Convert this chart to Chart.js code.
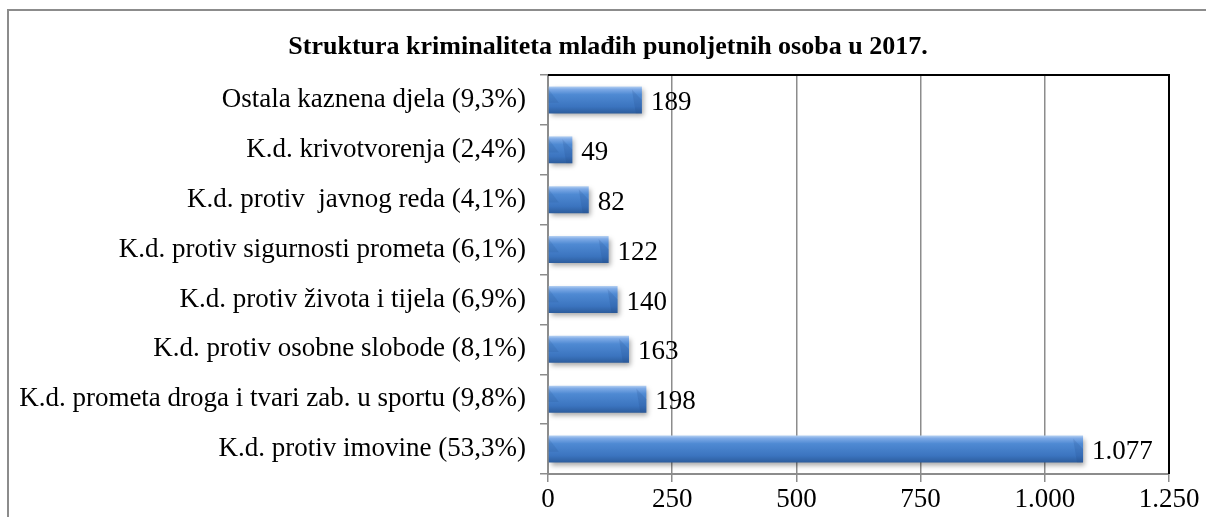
<!DOCTYPE html>
<html>
<head>
<meta charset="utf-8">
<script src="https://cdn.jsdelivr.net/npm/chart.js@4/dist/chart.umd.min.js"></script>
<style>
  body { margin: 0; background: #fff; }
  #wrap { position: relative; width: 1206px; height: 517px; }
  #frame { position: absolute; left: 7px; top: 9px; width: 1220px; height: 530px; border: 2px solid #8c8c8c; box-sizing: border-box; }
  canvas { position: absolute; left: 0; top: 0; }
</style>
</head>
<body>
<div id="wrap">
  <div id="frame"></div>
  <canvas id="chart" width="1206" height="517"></canvas>
</div>
<script>
// Data
const TITLE = 'Struktura kriminaliteta mlađih punoljetnih osoba u 2017.';
const categories = [
  'Ostala kaznena djela (9,3%)',
  'K.d. krivotvorenja (2,4%)',
  'K.d. protiv  javnog reda (4,1%)',
  'K.d. protiv sigurnosti prometa (6,1%)',
  'K.d. protiv života i tijela (6,9%)',
  'K.d. protiv osobne slobode (8,1%)',
  'K.d. prometa droga i tvari zab. u sportu (9,8%)',
  'K.d. protiv imovine (53,3%)'
];
const values = [189, 49, 82, 122, 140, 163, 198, 1077];
const xTicks = [0, 250, 500, 750, 1000, 1250];

const SERIF = '"Liberation Serif", "Times New Roman", serif';
const CAT_PCT = 0.54;

function fmt(v) {
  return v.toLocaleString('de-DE');
}

// bar fill: vertical gradient for the cylinder look
function barFill(context) {
  const chart = context.chart;
  const yScale = chart.scales.y;
  const area = chart.chartArea;
  if (!yScale || !area) return '#4a86d0';
  const band = (area.bottom - area.top) / categories.length;
  const h = band * CAT_PCT;
  const top = yScale.getPixelForValue(context.dataIndex) - h / 2;
  const g = chart.ctx.createLinearGradient(0, top, 0, top + h);
  g.addColorStop(0, '#b4d0f2');
  g.addColorStop(0.1, '#7eaae6');
  g.addColorStop(0.3, '#4f8ad3');
  g.addColorStop(0.75, '#3b74bf');
  g.addColorStop(1, '#2c5c9c');
  return g;
}

const barShadow = {
  id: 'barShadow',
  beforeDatasetsDraw(chart) {
    const c = chart.ctx;
    c.save();
    c.shadowColor = 'rgba(0,0,0,0.35)';
    c.shadowBlur = 5;
    c.shadowOffsetX = 2;
    c.shadowOffsetY = 3;
  },
  afterDatasetsDraw(chart) {
    chart.ctx.restore();
  }
};

// bevel shading at both ends of each bar, then value labels
const barExtras = {
  id: 'barExtras',
  afterDatasetsDraw(chart) {
    const c = chart.ctx;
    const meta = chart.getDatasetMeta(0);
    c.save();
    meta.data.forEach((bar) => {
      const top = bar.y - bar.height / 2;
      const bot = bar.y + bar.height / 2;
      const h = bar.height;
      const left = bar.base;
      const right = bar.x;
      const d = Math.min(10, (right - left) / 2);
      // left bevel
      c.fillStyle = 'rgba(30,70,130,0.14)';
      c.beginPath();
      c.moveTo(left, top + 3);
      c.lineTo(left + d, top + h * 0.6);
      c.lineTo(left, top + h * 0.6);
      c.closePath();
      c.fill();
      // right bevel
      c.fillStyle = 'rgba(30,70,130,0.16)';
      c.beginPath();
      c.moveTo(right - d, top + 3);
      c.lineTo(right, top + h * 0.5);
      c.lineTo(right, bot);
      c.lineTo(right - d * 0.6, bot);
      c.closePath();
      c.fill();
    });
    c.font = '27px ' + SERIF;
    c.fillStyle = '#000';
    c.textAlign = 'left';
    c.textBaseline = 'middle';
    meta.data.forEach((bar, i) => {
      c.fillText(fmt(values[i]), bar.x + 9, bar.y + 3);
    });
    c.restore();
  }
};

// plot frame (top and right black) and the title
const plotFrame = {
  id: 'plotFrame',
  afterDraw(chart) {
    const a = chart.chartArea;
    const c = chart.ctx;
    c.save();
    c.strokeStyle = '#000';
    c.lineWidth = 2;
    c.beginPath();
    c.moveTo(a.left, a.top);
    c.lineTo(a.right, a.top);
    c.lineTo(a.right, a.bottom);
    c.stroke();
    c.font = 'bold 26px ' + SERIF;
    c.fillStyle = '#000';
    c.textAlign = 'center';
    c.textBaseline = 'middle';
    c.fillText(TITLE, 608, 47);
    c.restore();
  }
};

const ctx = document.getElementById('chart').getContext('2d');

new Chart(ctx, {
  type: 'bar',
  data: {
    labels: categories,
    datasets: [{
      data: values,
      backgroundColor: barFill,
      borderWidth: 0,
      categoryPercentage: CAT_PCT,
      barPercentage: 1.0
    }]
  },
  options: {
    indexAxis: 'y',
    responsive: false,
    animation: false,
    layout: { padding: { left: 0, right: 37, top: 75, bottom: 0 } },
    plugins: {
      legend: { display: false },
      tooltip: { enabled: false },
      title: { display: false }
    },
    scales: {
      x: {
        min: 0,
        max: 1250,
        afterBuildTicks(scale) {
          scale.ticks = xTicks.map(v => ({ value: v }));
        },
        afterFit(scale) { scale.height = 43; },
        grid: {
          color: '#8c8c8c',
          lineWidth: 1.5,
          tickLength: 8,
          drawOnChartArea: true
        },
        border: { color: '#8c8c8c', width: 2 },
        ticks: {
          color: '#000',
          padding: 2,
          maxRotation: 0,
          font: { family: SERIF, size: 27 },
          callback: v => fmt(v)
        }
      },
      y: {
        afterFit(scale) { scale.width = 548; },
        grid: {
          offset: true,
          drawOnChartArea: false,
          color: '#8c8c8c',
          lineWidth: 1.5,
          tickLength: 8
        },
        border: { color: '#8c8c8c', width: 2 },
        ticks: {
          color: '#000',
          padding: 14,
          font: { family: SERIF, size: 27 }
        }
      }
    }
  },
  plugins: [barShadow, barExtras, plotFrame]
});
</script>
</body>
</html>
